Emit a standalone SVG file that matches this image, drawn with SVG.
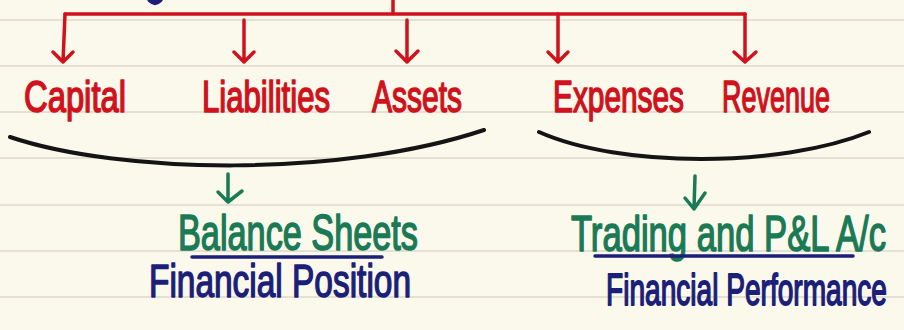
<svg xmlns="http://www.w3.org/2000/svg" width="904" height="330" viewBox="0 0 904 330">
  <defs>
    <style>
      .rule { stroke: #e4e0d3; stroke-width: 2; }
      .red { stroke: #d0121c; stroke-width: 3.5; fill: none; stroke-linecap: round; stroke-linejoin: round; }
      .brace { stroke: #141414; stroke-width: 4; fill: none; stroke-linecap: round; }
      .grn { stroke: #1b7a56; stroke-width: 3.5; fill: none; stroke-linecap: round; stroke-linejoin: round; }
      .uline { stroke: #1b1f78; stroke-width: 3.5; stroke-linecap: round; }
      text { font-family: "Liberation Sans", "DejaVu Sans", sans-serif; stroke-width: 1.1; stroke-linejoin: round; }
      .lbl { fill: #d0121c; stroke: #d0121c; font-size: 30px; }
      .head { fill: #1b7a56; stroke: #1b7a56; font-size: 34px; }
      .sub { fill: #1b1f78; stroke: #1b1f78; font-size: 33px; }
      .sub2 { fill: #1b1f78; stroke: #1b1f78; font-size: 28px; }
    </style>
  </defs>

  <!-- ruled paper -->
  <rect width="904" height="330" fill="#fbf8ec"/>
  <g id="ruling">
    <line class="rule" x1="0" y1="20" x2="904" y2="20"/>
    <line class="rule" x1="0" y1="66" x2="904" y2="66"/>
    <line class="rule" x1="0" y1="112" x2="904" y2="112"/>
    <line class="rule" x1="0" y1="158" x2="904" y2="158"/>
    <line class="rule" x1="0" y1="205" x2="904" y2="205"/>
    <line class="rule" x1="0" y1="251" x2="904" y2="251"/>
    <line class="rule" x1="0" y1="297" x2="904" y2="297"/>
  </g>

  <!-- ink mark at top edge -->
  <path d="M150,0 Q155,5 160,0" stroke="#1b1f78" stroke-width="5" fill="none" stroke-linecap="round"/>

  <g id="connectors">
    <!-- red tree -->
    <path class="red" d="M393,0 V14 M65,14 H745"/>
    <path class="red" d="M65,14 L63,62 M53,52 L63,62 L73,52"/>
    <path class="red" d="M244,20 V62 M234,52 L244,62 L254,52"/>
    <path class="red" d="M407,20 V62 M396,51 L407,62 L418,51"/>
    <path class="red" d="M558,14 V62 M548,52 L558,62 L568,52"/>
    <path class="red" d="M745,14 V62 M734,52 L745,62 L756,52"/>
    <!-- braces -->
    <path class="brace" d="M10,137 C120,174 340,178 484,130"/>
    <path class="brace" d="M539,132 C620,168 780,168 869,132"/>
    <!-- green arrows -->
    <path class="grn" d="M228,174 V202 M218,192 L228,202 L242,191"/>
    <path class="grn" d="M695,176 L694,209 M685,198 L694,209 L705,193"/>
  </g>

  <!-- account heads: tall, narrow lettering -->
  <g id="capital"><text class="lbl" transform="translate(24,112) scale(1,1.45)" textLength="102" lengthAdjust="spacingAndGlyphs">Capital</text></g>
  <g id="liabilities"><text class="lbl" transform="translate(202,112) scale(1,1.45)" textLength="128" lengthAdjust="spacingAndGlyphs">Liabilities</text></g>
  <g id="assets"><text class="lbl" transform="translate(372,112) scale(1,1.45)" textLength="90" lengthAdjust="spacingAndGlyphs">Assets</text></g>
  <g id="expenses"><text class="lbl" transform="translate(553,112) scale(1,1.45)" textLength="131" lengthAdjust="spacingAndGlyphs">Expenses</text></g>
  <g id="revenue"><text class="lbl" transform="translate(722,112) scale(1,1.45)" textLength="108" lengthAdjust="spacingAndGlyphs">Revenue</text></g>

  <g id="balance-sheets">
    <text class="head" transform="translate(178,250) scale(1,1.45)" textLength="240" lengthAdjust="spacingAndGlyphs">Balance Sheets</text>
    <line class="uline" x1="192" y1="257" x2="382" y2="257"/>
    <text class="sub" transform="translate(149,297) scale(1,1.4)" textLength="262" lengthAdjust="spacingAndGlyphs">Financial Position</text>
  </g>

  <g id="trading-pl">
    <text class="head" transform="translate(571,251) scale(1,1.45)" textLength="315" lengthAdjust="spacingAndGlyphs">Trading and P&amp;L A/c</text>
    <line class="uline" x1="595" y1="256" x2="853" y2="256"/>
    <text class="sub2" transform="translate(606,305) scale(1,1.6)" textLength="281" lengthAdjust="spacingAndGlyphs">Financial Performance</text>
  </g>
</svg>
